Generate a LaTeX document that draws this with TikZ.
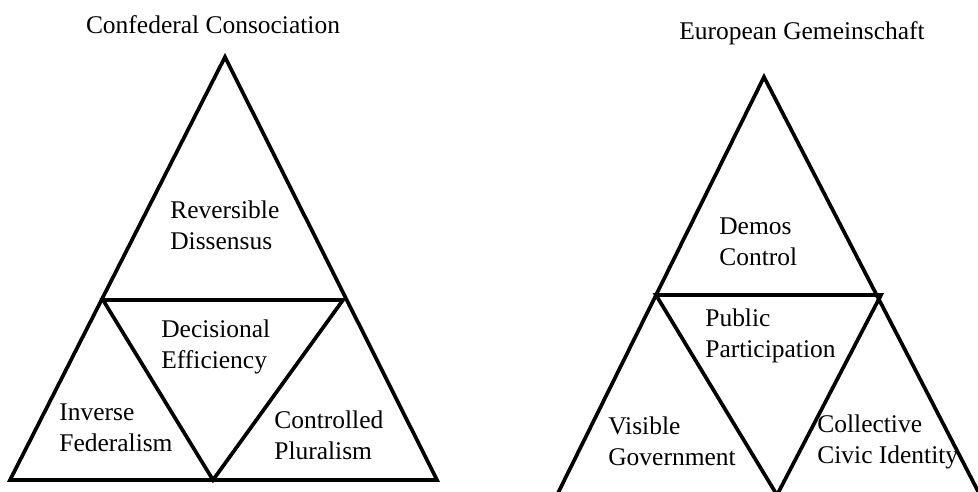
\documentclass[tikz,border=0pt]{standalone}
\usepackage{fontspec}
\setmainfont{Liberation Serif}
\usepackage{tikz}
\usetikzlibrary{positioning}

\begin{document}
\begin{tikzpicture}[x=0.02cm, y=-0.02cm,
        edge/.style={line width=2.1pt, line join=miter},
        lbl/.style={inner sep=0pt, align=left, anchor=west, font=\fontsize{14.5}{17.5}\selectfont},
        ttl/.style={inner sep=0pt, font=\fontsize{14.5}{17.5}\selectfont}]

        % page frame, in pixels of the reference
        \useasboundingbox (0,0) rectangle (978,491);

        % left triangle corners
        \coordinate (la) at (225,57);
        \coordinate (lml) at (103,300);
        \coordinate (lmr) at (343,300);
        \coordinate (lbl) at (10,480);
        \coordinate (lbr) at (437,480);
        \coordinate (lbm) at (213,480);

        % right triangle corners (base runs off the page)
        \coordinate (ra) at (764,77);
        \coordinate (rml) at (656,295);
        \coordinate (rmr) at (881,295);
        \coordinate (rbl) at (557,495);
        \coordinate (rbr) at (980,495);
        \coordinate (rbm) at (777,495);

        % outlines
        \draw[edge] (lbl) -- (la) -- (lbr) -- cycle;
        \draw[edge] (lml) -- (lmr) -- (lbm) -- cycle;
        \draw[edge] (rbl) -- (ra) -- (rbr) -- cycle;
        \draw[edge] (rml) -- (rmr) -- (rbm) -- cycle;

        % titles
        \node[ttl] (cctitle) at (213,25) {Confederal Consociation};
        \node[ttl] (egtitle) at (802,33) {European Gemeinschaft};

        % left labels
        \node[lbl] (revdis) at (170,225) {Reversible\\Dissensus};
        \node[lbl] (deceff) at (161,347) {Decisional\\Efficiency};
        \node[lbl] (invfed) at (59,428) {Inverse\\Federalism};
        \node[lbl] (conplu) at (274,435) {Controlled\\Pluralism};

        % right labels
        \node[lbl] (demcon) at (719,242) {Demos\\Control};
        \node[lbl] (pubpar) at (705,336) {Public\\Participation};
        \node[lbl] (visgov) at (608,441) {Visible\\Government};
        \node[lbl] (colciv) at (817,442) {Collective\\Civic Identity};

    \end{tikzpicture}
\end{document}
